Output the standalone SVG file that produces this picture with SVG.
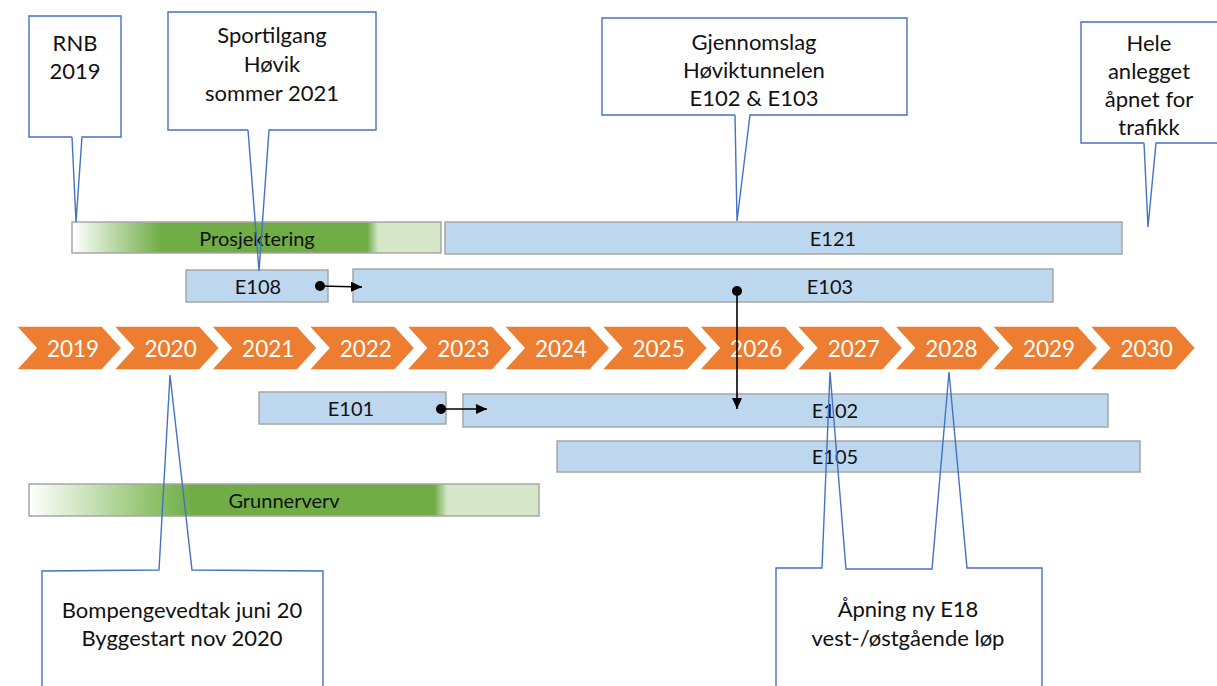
<svg xmlns="http://www.w3.org/2000/svg" width="1217" height="686" viewBox="0 0 1217 686">
<style>
.bar{fill:#bdd7ee;stroke:#a6a6a6;stroke-width:1.5}
.gbar{stroke:#a6a6a6;stroke-width:1.5}
.blab{font-family:Lato,"Open Sans",sans-serif;font-size:20px;fill:#111111;text-anchor:middle;dominant-baseline:central}
.chev{fill:#ed7d31;stroke:#ffffff;stroke-width:1.5}
.year{font-family:Lato,"Open Sans",sans-serif;font-size:22.5px;fill:#ffffff;text-anchor:middle;dominant-baseline:central}
.cbody{fill:#ffffff;stroke:none}
.cline{fill:none;stroke:#4472c4;stroke-width:1.4;stroke-linejoin:miter}
.ctext{font-family:Lato,"Open Sans",sans-serif;font-size:22px;fill:#111111;text-anchor:middle}
.conn{stroke:#000000;stroke-width:1.6;fill:none}
</style>
<defs>
<linearGradient id="gP" x1="72" y1="0" x2="441" y2="0" gradientUnits="userSpaceOnUse">
<stop offset="0" stop-color="#ffffff"/>
<stop offset="0.24" stop-color="#70ad47"/>
<stop offset="0.8" stop-color="#70ad47"/>
<stop offset="0.83" stop-color="#d5e6c9"/>
<stop offset="1" stop-color="#d5e6c9"/>
</linearGradient>
<linearGradient id="gG" x1="29" y1="0" x2="539" y2="0" gradientUnits="userSpaceOnUse">
<stop offset="0" stop-color="#ffffff"/>
<stop offset="0.25" stop-color="#8cc068"/>
<stop offset="0.32" stop-color="#70ad47"/>
<stop offset="0.795" stop-color="#70ad47"/>
<stop offset="0.82" stop-color="#d5e6c9"/>
<stop offset="1" stop-color="#d5e6c9"/>
</linearGradient>
<marker id="dot" markerWidth="10" markerHeight="10" refX="5" refY="5" markerUnits="userSpaceOnUse"><circle cx="5" cy="5" r="5" fill="#000"/></marker>
<marker id="tri" markerWidth="12" markerHeight="12" refX="11" refY="6" orient="auto" markerUnits="userSpaceOnUse"><path d="M0,1 L11,6 L0,11 Z" fill="#000"/></marker>
</defs>

<g id="timeline">
<g id="y2019"><polygon class="chev" points="16,326 102,326 122,348 102,370 16,370 36,348"/><text class="year" x="73" y="348">2019</text></g>
<g id="y2020"><polygon class="chev" points="113.6,326 199.6,326 219.6,348 199.6,370 113.6,370 133.6,348"/><text class="year" x="170.6" y="348">2020</text></g>
<g id="y2021"><polygon class="chev" points="211.2,326 297.2,326 317.2,348 297.2,370 211.2,370 231.2,348"/><text class="year" x="268.2" y="348">2021</text></g>
<g id="y2022"><polygon class="chev" points="308.8,326 394.8,326 414.8,348 394.8,370 308.8,370 328.8,348"/><text class="year" x="365.8" y="348">2022</text></g>
<g id="y2023"><polygon class="chev" points="406.4,326 492.4,326 512.4,348 492.4,370 406.4,370 426.4,348"/><text class="year" x="463.4" y="348">2023</text></g>
<g id="y2024"><polygon class="chev" points="504,326 590,326 610,348 590,370 504,370 524,348"/><text class="year" x="561" y="348">2024</text></g>
<g id="y2025"><polygon class="chev" points="601.6,326 687.6,326 707.6,348 687.6,370 601.6,370 621.6,348"/><text class="year" x="658.6" y="348">2025</text></g>
<g id="y2026"><polygon class="chev" points="699.2,326 785.2,326 805.2,348 785.2,370 699.2,370 719.2,348"/><text class="year" x="756.2" y="348">2026</text></g>
<g id="y2027"><polygon class="chev" points="796.8,326 882.8,326 902.8,348 882.8,370 796.8,370 816.8,348"/><text class="year" x="853.8" y="348">2027</text></g>
<g id="y2028"><polygon class="chev" points="894.4,326 980.4,326 1000.4,348 980.4,370 894.4,370 914.4,348"/><text class="year" x="951.4" y="348">2028</text></g>
<g id="y2029"><polygon class="chev" points="992,326 1078,326 1098,348 1078,370 992,370 1012,348"/><text class="year" x="1049" y="348">2029</text></g>
<g id="y2030"><polygon class="chev" points="1089.6,326 1175.6,326 1195.6,348 1175.6,370 1089.6,370 1109.6,348"/><text class="year" x="1146.6" y="348">2030</text></g>
</g>

<g id="prosjektering"><rect class="gbar" x="72" y="222" width="369" height="31" fill="url(#gP)"/><text class="blab" x="257" y="238">Prosjektering</text></g>
<g id="E121"><rect class="bar" x="445" y="222" width="677" height="32"/><text class="blab" x="833" y="238">E121</text></g>
<g id="E108"><rect class="bar" x="186" y="270" width="142" height="32"/><text class="blab" x="258" y="286">E108</text></g>
<g id="E103"><rect class="bar" x="353" y="269" width="700" height="33"/><text class="blab" x="830" y="286">E103</text></g>
<g id="E101"><rect class="bar" x="259" y="392" width="187" height="32"/><text class="blab" x="351" y="408">E101</text></g>
<g id="E102"><rect class="bar" x="463" y="394" width="645" height="33"/><text class="blab" x="835" y="410">E102</text></g>
<g id="E105"><rect class="bar" x="557" y="441" width="583" height="31"/><text class="blab" x="835" y="456">E105</text></g>
<g id="grunnerverv"><rect class="gbar" x="29" y="484" width="510" height="32" fill="url(#gG)"/><text class="blab" x="284" y="500">Grunnerverv</text></g>

<g id="connectors">
<line class="conn" x1="320" y1="286" x2="362" y2="287" marker-start="url(#dot)" marker-end="url(#tri)"/>
<line class="conn" x1="441" y1="409" x2="487" y2="409" marker-start="url(#dot)" marker-end="url(#tri)"/>
<line class="conn" x1="737" y1="291" x2="737" y2="409" marker-start="url(#dot)" marker-end="url(#tri)"/>
</g>

<g id="callout-rnb">
<rect class="cbody" x="29" y="16" width="92" height="121"/>
<path class="cline" d="M72,137 L29,137 L29,16 L121,16 L121,137 L82,137 L76,222 L72,137"/>
<text class="ctext" x="75" y="51">RNB</text>
<text class="ctext" x="75" y="79">2019</text>
</g>
<g id="callout-sportilgang">
<rect class="cbody" x="168" y="12" width="208" height="118"/>
<path class="cline" d="M248,130 L168,130 L168,12 L376,12 L376,130 L269,130 L259,271 L248,130"/>
<text class="ctext" x="272" y="43">Sportilgang</text>
<text class="ctext" x="272" y="72">Høvik</text>
<text class="ctext" x="272" y="101">sommer 2021</text>
</g>
<g id="callout-gjennomslag">
<rect class="cbody" x="602" y="18" width="305" height="97"/>
<path class="cline" d="M735,115 L602,115 L602,18 L907,18 L907,115 L750,115 L737,221 L735,115"/>
<text class="ctext" x="754" y="50">Gjennomslag</text>
<text class="ctext" x="754" y="78">Høviktunnelen</text>
<text class="ctext" x="754" y="106">E102 &amp; E103</text>
</g>
<g id="callout-hele">
<rect class="cbody" x="1081" y="22" width="150" height="121"/>
<path class="cline" d="M1144,143 L1081,143 L1081,22 L1230,22 M1230,143 L1156,143 L1148,227 L1144,143"/>
<text class="ctext" x="1149" y="51">Hele</text>
<text class="ctext" x="1149" y="79">anlegget</text>
<text class="ctext" x="1149" y="107">åpnet for</text>
<text class="ctext" x="1149" y="135">trafikk</text>
</g>
<g id="callout-bompenge">
<rect class="cbody" x="42" y="570" width="281" height="130"/>
<path class="cline" d="M42,700 L42,571 L159,570 L170,375 L192,570 L323,571 L323,700"/>
<text class="ctext" x="182" y="618">Bompengevedtak juni 20</text>
<text class="ctext" x="182" y="646">Byggestart nov 2020</text>
</g>
<g id="callout-apning">
<rect class="cbody" x="776" y="568" width="266" height="130"/>
<path class="cline" d="M776,700 L776,568 L822,568 L830,372 L846,569 L932,569 L949,372 L967,568 L1042,568 L1042,700"/>
<text class="ctext" x="908" y="617">Åpning ny E18</text>
<text class="ctext" x="908" y="646">vest-/østgående løp</text>
</g>
</svg>
